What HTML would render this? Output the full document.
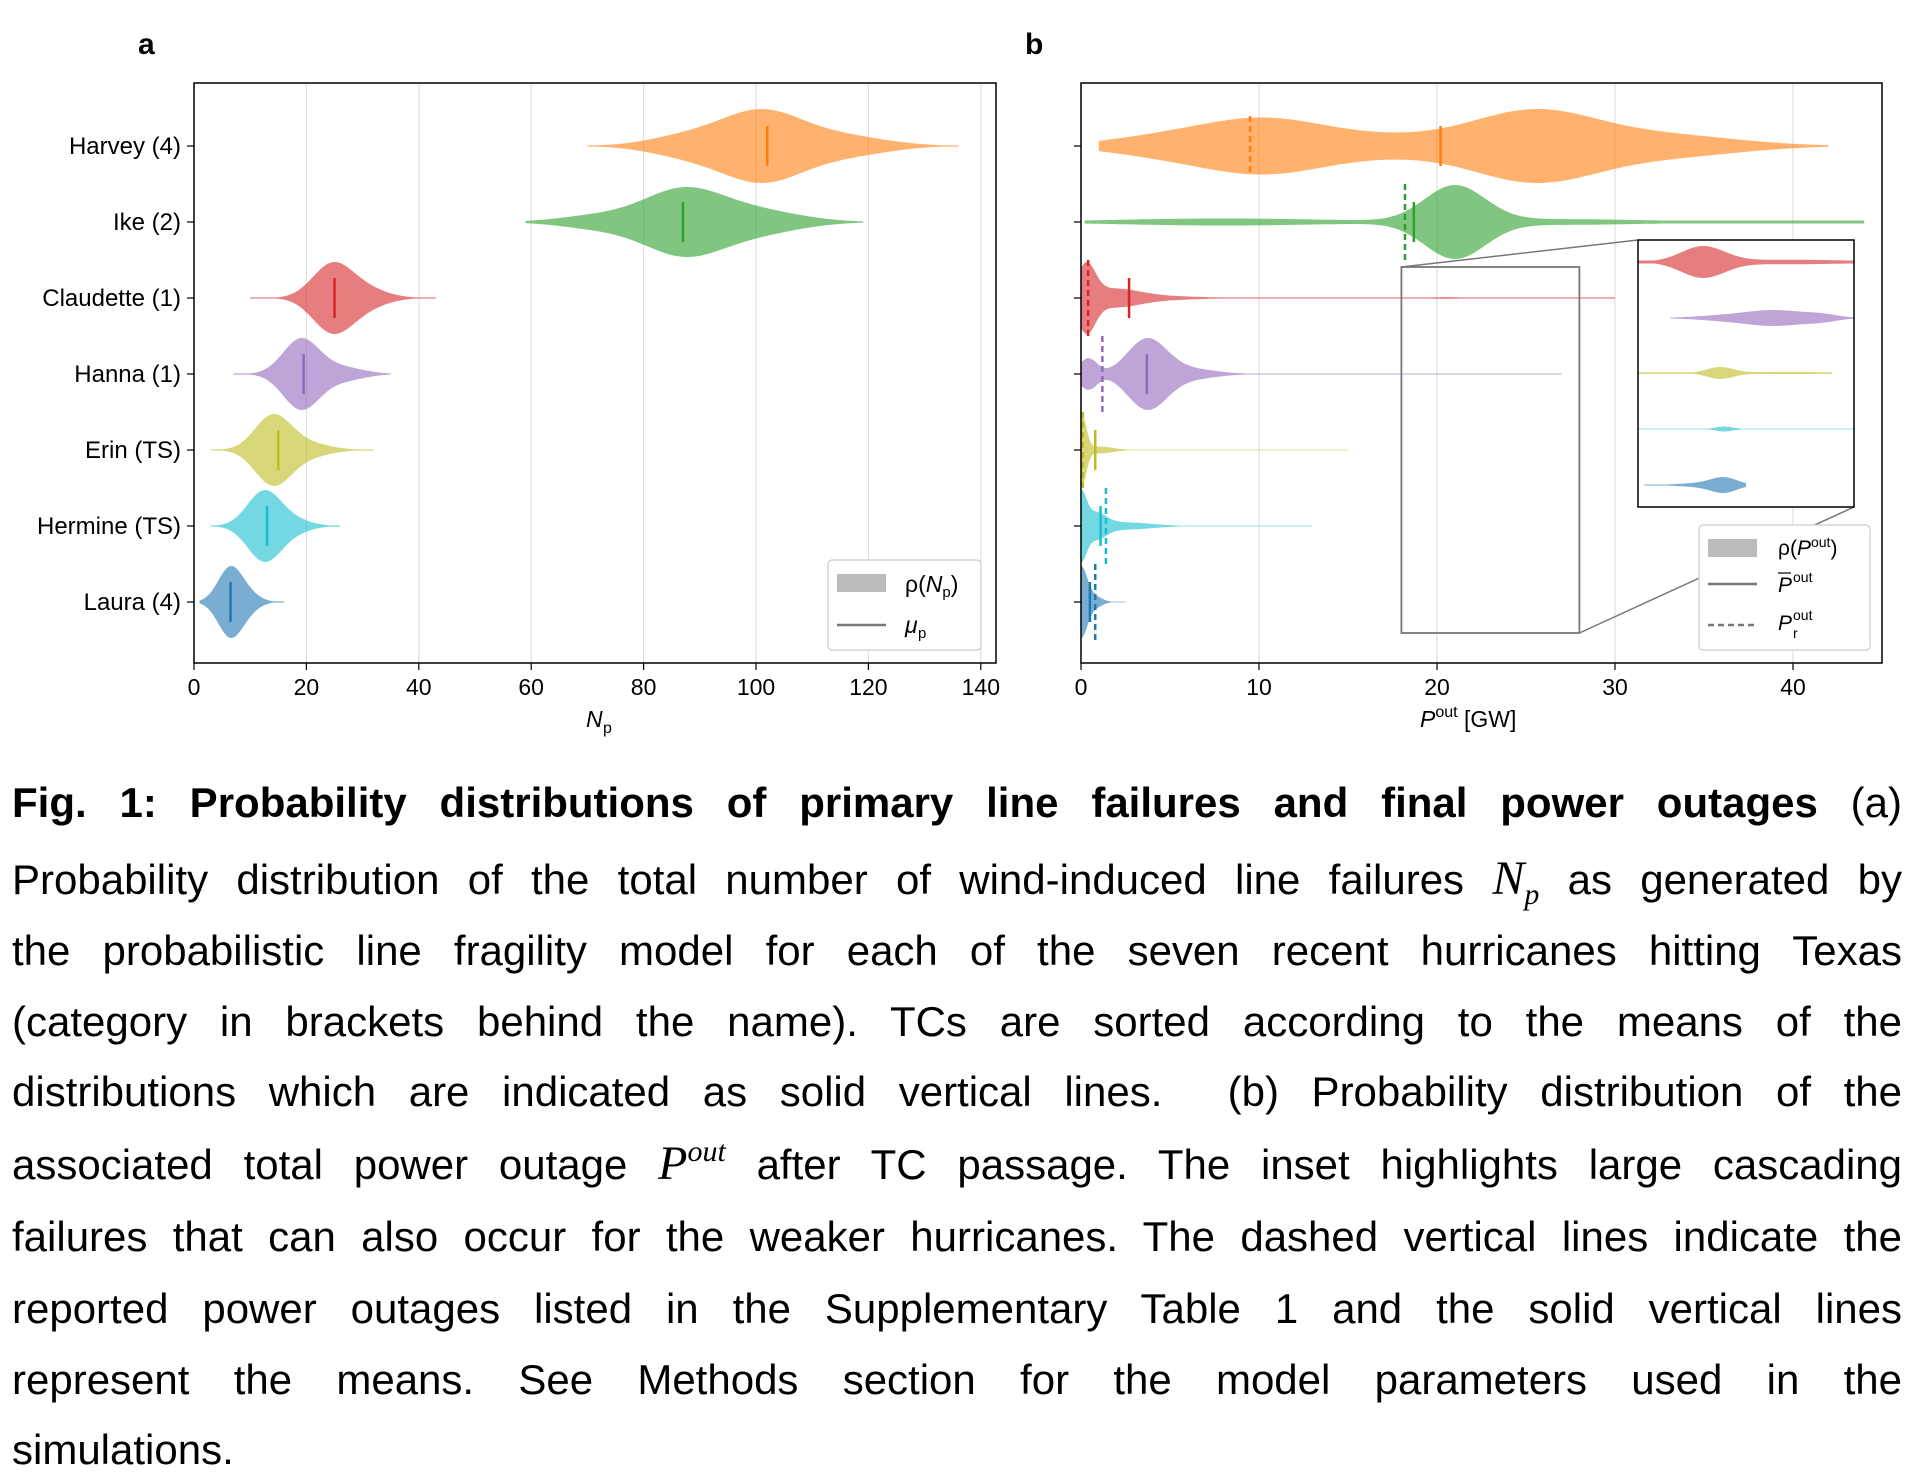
<!DOCTYPE html>
<html><head><meta charset="utf-8">
<style>
html,body{margin:0;padding:0;background:#fff;}
body{width:1913px;height:1479px;position:relative;overflow:hidden;font-family:"Liberation Sans",sans-serif;}
svg{position:absolute;left:0;top:0;}
.ln{position:absolute;left:12px;width:1890px;height:60px;line-height:60px;font-size:42px;text-align:justify;text-align-last:justify;white-space:nowrap;color:#000;}
.ln.last{text-align-last:left;}
.m{font-family:"Liberation Serif",serif;font-style:italic;font-size:48px;line-height:0;}
.m sub,.m sup{font-size:30px;line-height:0;vertical-align:baseline;position:relative;}
.m sub{top:10px;} .m sup{top:-18px;}
</style></head><body>
<svg id="s" width="1913" height="760" viewBox="0 0 1913 760" font-family="Liberation Sans, DejaVu Sans, sans-serif">
<text x="138" y="54" font-size="30" font-weight="bold">a</text>
<text x="1025" y="54" font-size="30" font-weight="bold">b</text>
<g id="ga"></g>
<g id="gb"></g>
</svg>
<div class="ln" style="top:773px"><b>Fig. 1: Probability distributions of primary line failures and final power outages</b> (a)</div>
<div class="ln" style="top:850px">Probability distribution of the total number of wind-induced line failures <span class="m">N<sub>p</sub></span> as generated by</div>
<div class="ln" style="top:921px">the probabilistic line fragility model for each of the seven recent hurricanes hitting Texas</div>
<div class="ln" style="top:992px">(category in brackets behind the name). TCs are sorted according to the means of the</div>
<div class="ln" style="top:1062px">distributions which are indicated as solid vertical lines.&nbsp; (b) Probability distribution of the</div>
<div class="ln" style="top:1135px">associated total power outage <span class="m">P<sup>out</sup></span> after TC passage. The inset highlights large cascading</div>
<div class="ln" style="top:1207px">failures that can also occur for the weaker hurricanes. The dashed vertical lines indicate the</div>
<div class="ln" style="top:1279px">reported power outages listed in the Supplementary Table 1 and the solid vertical lines</div>
<div class="ln" style="top:1350px">represent the means. See Methods section for the model parameters used in the</div>
<div class="ln last" style="top:1420px">simulations.</div>
<script>
(function(){
var NS="http://www.w3.org/2000/svg";
function el(p,t,a,txt){var e=document.createElementNS(NS,t);for(var k in a)e.setAttribute(k,a[k]);if(txt!=null)e.textContent=txt;p.appendChild(e);return e;}
var C=["#ff7f0e","#2ca02c","#d62728","#9467bd","#bcbd22","#17becf","#1f77b4"];
var rows=[146,222,298,374,450,526,602];
function violin(g,X,y,x0,x1,h,comps,col,floor,clipL,clipR){
 var N=400,f=[],mx=0;
 for(var i=0;i<=N;i++){var v=x0+(x1-x0)*i/N,s=0;comps.forEach(function(c){s+=c[2]*Math.exp(-0.5*Math.pow((v-c[0])/c[1],2));});f.push([v,s]);if(s>mx)mx=s;}
 var top=[],bot=[];
 f.forEach(function(p){var x=X(p[0]);if(clipL!=null&&x<clipL)return;if(clipR!=null&&x>clipR)return;var w=Math.max(h*p[1]/mx,floor||0.6);top.push(x.toFixed(1)+","+(y-w).toFixed(1));bot.unshift(x.toFixed(1)+","+(y+w).toFixed(1));});
 el(g,"polygon",{points:top.concat(bot).join(" "),fill:col,"fill-opacity":0.6});
}
var ga=document.getElementById("ga");
var XA=function(v){return 194+5.62*v;};
for(var t=0;t<=140;t+=20){var x=XA(t);el(ga,"line",{x1:x,y1:83,x2:x,y2:663,stroke:"#e0e0e0","stroke-width":1.2});el(ga,"line",{x1:x,y1:663,x2:x,y2:670,stroke:"#000","stroke-width":1.2});el(ga,"text",{x:x,y:695,"font-size":23,"text-anchor":"middle"},""+t);}
var A=[[70,136,37,[[101,7,1],[115,8,0.3],[88,7,0.3]],102],
[59,119,35,[[87,7,1],[100,8,0.35],[72,7,0.2]],87],
[10,43,36,[[24.5,3.5,1],[30,4,0.3]],25],
[7,35,36,[[19,3.2,1],[26,4,0.2]],19.5],
[3,32,36,[[14,3.2,1],[20,4,0.2]],15],
[3,26,36,[[12.5,3,1],[18,3,0.15]],13],
[1,16,36,[[6.5,2.2,1],[10,2,0.15]],6.5]];
var names=["Harvey (4)","Ike (2)","Claudette (1)","Hanna (1)","Erin (TS)","Hermine (TS)","Laura (4)"];
A.forEach(function(a,i){var y=rows[i];violin(ga,XA,y,a[0],a[1],a[2],a[3],C[i]);el(ga,"line",{x1:XA(a[4]),y1:y-20,x2:XA(a[4]),y2:y+20,stroke:C[i],"stroke-width":2.5});
 el(ga,"line",{x1:187,y1:y,x2:194,y2:y,stroke:"#000","stroke-width":1.2});el(ga,"text",{x:181,y:y+8,"font-size":24,"text-anchor":"end"},names[i]);});
el(ga,"rect",{x:194,y:83,width:802,height:580,fill:"none",stroke:"#000","stroke-width":1.5});
el(ga,"text",{x:586,y:727,"font-size":23,"font-style":"italic"},"N");
el(ga,"text",{x:603,y:733,"font-size":16},"p");
el(ga,"rect",{x:828,y:560,width:153,height:90,rx:4,fill:"#fff",stroke:"#ccc","stroke-width":1.2});
el(ga,"rect",{x:837,y:574,width:49,height:18,fill:"#bbb"});
el(ga,"line",{x1:837,y1:625,x2:886,y2:625,stroke:"#777","stroke-width":2.5});
var t1=el(ga,"text",{x:905,y:592,"font-size":23});t1.innerHTML='ρ(<tspan font-style="italic">N</tspan><tspan font-size="15" dy="5">p</tspan><tspan dy="-5">)</tspan>';
el(ga,"text",{x:905,y:633,"font-size":23,"font-style":"italic"},"μ");el(ga,"text",{x:918,y:638,"font-size":15},"p");
var gb=document.getElementById("gb");
var XB=function(v){return 1081+17.8*v;};
for(var t=0;t<=40;t+=10){var x=XB(t);el(gb,"line",{x1:x,y1:83,x2:x,y2:663,stroke:"#e0e0e0","stroke-width":1.2});el(gb,"line",{x1:x,y1:663,x2:x,y2:670,stroke:"#000","stroke-width":1.2});el(gb,"text",{x:x,y:695,"font-size":23,"text-anchor":"middle"},""+t);}
var B=[[1,42,37,[[10,3.5,0.75],[25.5,3.5,1],[17,4,0.25],[33,4,0.3],[4,3,0.2]],20.2,9.5,0.8],
[0.2,44,37,[[21,1.7,1],[8,6,0.1],[27,5,0.08]],18.7,18.2,1.5],
[0,30,36,[[0.3,0.5,1],[1.8,1.5,0.3],[5,2,0.05],[20.5,0.8,0.03]],2.7,0.4,0.6],
[0,27,36,[[0.4,0.5,0.45],[3.7,1.1,1],[6,1.5,0.15]],3.7,1.2,0.5],
[0,15,36,[[0.05,0.25,1],[1,0.8,0.1]],0.8,0.1,0.4],
[0,13,36,[[0,0.3,1],[0.8,0.6,0.4],[2.5,1.5,0.12]],1.1,1.4,0.4],
[0,2.5,36,[[0,0.35,1],[0.8,0.4,0.15]],0.5,0.8,0.4]];
B.forEach(function(a,i){var y=rows[i];violin(gb,XB,y,a[0],a[1],a[2],a[3],C[i],a[6],1081,1880);
 el(gb,"line",{x1:XB(a[4]),y1:y-20,x2:XB(a[4]),y2:y+20,stroke:C[i],"stroke-width":2.5});
 var dh=(i==0)?30:38;el(gb,"line",{x1:XB(a[5]),y1:y-dh,x2:XB(a[5]),y2:y+dh,stroke:C[i],"stroke-width":2.5,"stroke-dasharray":"6,4"});
 el(gb,"line",{x1:1074,y1:y,x2:1081,y2:y,stroke:"#000","stroke-width":1.2});});
el(gb,"rect",{x:1081,y:83,width:801,height:580,fill:"none",stroke:"#000","stroke-width":1.5});
var bx0=XB(18),bx1=XB(28);
el(gb,"rect",{x:bx0,y:267,width:bx1-bx0,height:366,fill:"none",stroke:"#777","stroke-width":1.8});
el(gb,"line",{x1:bx0,y1:267,x2:1638,y2:240,stroke:"#777","stroke-width":1.5});
el(gb,"line",{x1:bx1,y1:633,x2:1854,y2:507,stroke:"#777","stroke-width":1.5});
el(gb,"rect",{x:1638,y:240,width:216,height:267,fill:"#fff",stroke:"none"});
var XI=function(v){return 1638+21.6*(v-18);};
var I=[[18,28,16,[[21,1,1],[25,3,0.15]],262,1.5],
[19.5,28,8,[[24.5,1.2,1],[22.5,1.5,0.5],[26.5,0.8,0.5]],318,0.5],
[18,27,6,[[21.8,0.6,1],[25,2,0.2]],373,0.8],
[18,28,2.5,[[22,0.4,1]],429,0.4],
[18.3,23,8,[[22,0.6,1],[21,1,0.3]],485,0.5]];
var ic=[2,3,4,5,6];
I.forEach(function(a,k){violin(gb,XI,a[4],a[0],a[1],a[2],a[3],C[ic[k]],a[5],1638,1854);});
el(gb,"rect",{x:1638,y:240,width:216,height:267,fill:"none",stroke:"#000","stroke-width":1.5});
var t2=el(gb,"text",{x:1420,y:727,"font-size":23});t2.innerHTML='<tspan font-style="italic">P</tspan><tspan font-size="16" dy="-10">out</tspan><tspan dy="10"> [GW]</tspan>';
el(gb,"rect",{x:1699,y:525,width:171,height:125,rx:4,fill:"#fff",stroke:"#ccc","stroke-width":1.2});
el(gb,"rect",{x:1708,y:539,width:49,height:18,fill:"#bbb"});
el(gb,"line",{x1:1708,y1:584,x2:1757,y2:584,stroke:"#777","stroke-width":2.5});
el(gb,"line",{x1:1708,y1:625,x2:1757,y2:625,stroke:"#777","stroke-width":2.5,"stroke-dasharray":"6,4"});
var t3=el(gb,"text",{x:1778,y:555,"font-size":21});t3.innerHTML='ρ(<tspan font-style="italic">P</tspan><tspan font-size="14" dy="-8">out</tspan><tspan dy="8">)</tspan>';
el(gb,"text",{x:1778,y:592,"font-size":21,"font-style":"italic"},"P");el(gb,"line",{x1:1778,y1:573,x2:1791,y2:573,stroke:"#000","stroke-width":1.2});el(gb,"text",{x:1793,y:582,"font-size":14},"out");
el(gb,"text",{x:1778,y:630,"font-size":21,"font-style":"italic"},"P");el(gb,"text",{x:1793,y:620,"font-size":14},"out");el(gb,"text",{x:1793,y:638,"font-size":14},"r");
})();
</script>
</body></html>
